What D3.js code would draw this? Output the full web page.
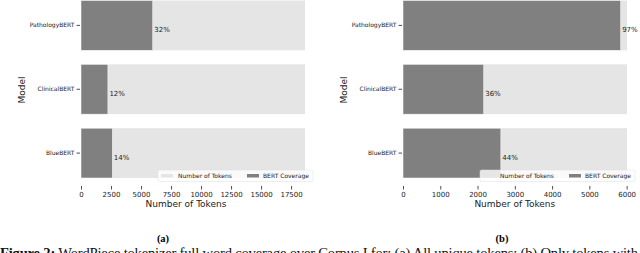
<!DOCTYPE html>
<html>
<head>
<meta charset="utf-8">
<script src="https://cdn.jsdelivr.net/npm/d3@7"></script>
<style>
  body { margin: 0; background: #fff; }
  svg { display: block; }
  text { font-family: "DejaVu Sans", sans-serif; }
</style>
</head>
<body>
<div id="chart"></div>
<script>
// data
var models = ["PathologyBERT", "ClinicalBERT", "BlueBERT"];

// (a) all unique tokens
var totalA = [18660, 18660, 18660];
var coverA = [5975, 2240, 2610];
var ticksA = [0, 2500, 5000, 7500, 10000, 12500, 15000, 17500];

// (b) only tokens with ...
var totalB = [6010, 6010, 6010];
var coverB = [5840, 2165, 2625];
var ticksB = [0, 1000, 2000, 3000, 4000, 5000, 6000];

var legendLabels = ["Number of Tokens", "BERT Coverage"];
var lightColor = "#e5e5e5", darkColor = "#808080";

var svg = d3.select("#chart")
    .append("svg")
    .attr("width", 640)
    .attr("height", 253);

function drawPanel(opts) {
    var x = d3.scaleLinear()
        .domain([0, d3.max(opts.total)])
        .range([opts.x0, opts.x1]);

    var y = d3.scaleBand()
        .domain(models)
        .range([0.5, 178])
        .paddingInner(0.22)
        .paddingOuter(0);

    var g = svg.append("g");

    // total tokens (light) bars
    g.selectAll(".tot")
        .data(models)
        .enter()
        .append("rect")
        .attr("x", x(0))
        .attr("y", function (d) { return y(d); })
        .attr("width", function (d, i) { return x(opts.total[i]) - x(0); })
        .attr("height", y.bandwidth())
        .style("fill", lightColor);

    // coverage (dark) bars
    g.selectAll(".cov")
        .data(models)
        .enter()
        .append("rect")
        .attr("x", x(0))
        .attr("y", function (d) { return y(d); })
        .attr("width", function (d, i) { return x(opts.cover[i]) - x(0); })
        .attr("height", y.bandwidth())
        .style("fill", darkColor)
        .style("stroke", "#fff")
        .style("stroke-width", 0.5);

    // percent labels
    g.selectAll(".pct")
        .data(models)
        .enter()
        .append("text")
        .attr("x", function (d, i) { return x(opts.cover[i]) + 1.5; })
        .attr("y", function (d) { return y(d) + y.bandwidth() / 2 + 7; })
        .style("font-size", "7px")
        .style("fill", "#222")
        .text(function (d, i) { return Math.round(opts.cover[i] / opts.total[i] * 100) + "%"; });

    // y axis
    var ya = g.append("g")
        .attr("transform", "translate(" + (opts.x0 - 1) + ",0)")
        .call(d3.axisLeft(y).tickSize(3.5).tickPadding(2));
    ya.select(".domain").remove();
    ya.selectAll("text").style("font-size", "6px").style("font-family", "DejaVu Sans").style("fill", "#222");
    ya.selectAll("line").style("stroke", "#222").style("stroke-width", 0.8);

    // x axis
    var xa = g.append("g")
        .attr("transform", "translate(0,186)")
        .call(d3.axisBottom(x).tickValues(opts.ticks).tickFormat(d3.format("d")).tickSize(3.5).tickPadding(2.5));
    xa.select(".domain").remove();
    xa.selectAll("text").style("font-size", "7px").style("font-family", "DejaVu Sans").style("fill", "#222");
    xa.selectAll("line").style("stroke", "#222").style("stroke-width", 0.8);

    // axis titles
    g.append("text")
        .attr("x", (x(0) + x(opts.ticks[opts.ticks.length - 1])) / 2)
        .attr("y", 207)
        .attr("text-anchor", "middle")
        .style("font-size", "9px")
        .style("fill", "#222")
        .text("Number of Tokens");

    g.append("text")
        .attr("transform", "translate(" + opts.modelX + ",90) rotate(-90)")
        .attr("text-anchor", "middle")
        .style("font-size", "9px")
        .style("fill", "#222")
        .text("Model");

    // legend
    var lg = g.append("g").attr("transform", "translate(" + opts.legendX + ",170)");
    lg.append("rect")
        .attr("width", 155)
        .attr("height", 11.5)
        .attr("rx", 1.5)
        .style("fill", "#fff")
        .style("fill-opacity", 0.8)
        .style("stroke", "#ddd")
        .style("stroke-width", 0.5);
    var items = [
        { label: legendLabels[0], color: lightColor, px: 3, tx: 20 },
        { label: legendLabels[1], color: darkColor, px: 89, tx: 105 }
    ];
    items.forEach(function (it) {
        lg.append("rect")
            .attr("x", it.px)
            .attr("y", 4)
            .attr("width", 12)
            .attr("height", 3.5)
            .style("fill", it.color);
        lg.append("text")
            .attr("x", it.tx)
            .attr("y", 8.2)
            .style("font-size", "6px")
            .style("fill", "#222")
            .text(it.label);
    });

    // panel caption
    g.append("text")
        .attr("x", opts.capX)
        .attr("y", 242)
        .attr("text-anchor", "middle")
        .style("font-family", "Liberation Serif")
        .style("font-weight", "bold")
        .style("font-size", "10.5px")
        .text(opts.cap);
}

drawPanel({ total: totalA, cover: coverA, ticks: ticksA, x0: 81, x1: 305,
    modelX: 25, legendX: 158, capX: 163, cap: "(a)" });
drawPanel({ total: totalB, cover: coverB, ticks: ticksB, x0: 403, x1: 627,
    modelX: 347, legendX: 480, capX: 502, cap: "(b)" });

// figure caption (cut off at the bottom edge, as in the source)
var cap = svg.append("text")
    .attr("x", 0)
    .attr("y", 258)
    .attr("textLength", 638)
    .attr("lengthAdjust", "spacing")
    .style("font-family", "Liberation Serif")
    .style("font-size", "14.6px")
    .style("fill", "#111");
cap.append("tspan").style("font-weight", "bold").text("Figure 2:");
cap.append("tspan").text(" WordPiece tokenizer full word coverage over Corpus I for: (a) All unique tokens; (b) Only tokens with");
</script>
</body>
</html>
